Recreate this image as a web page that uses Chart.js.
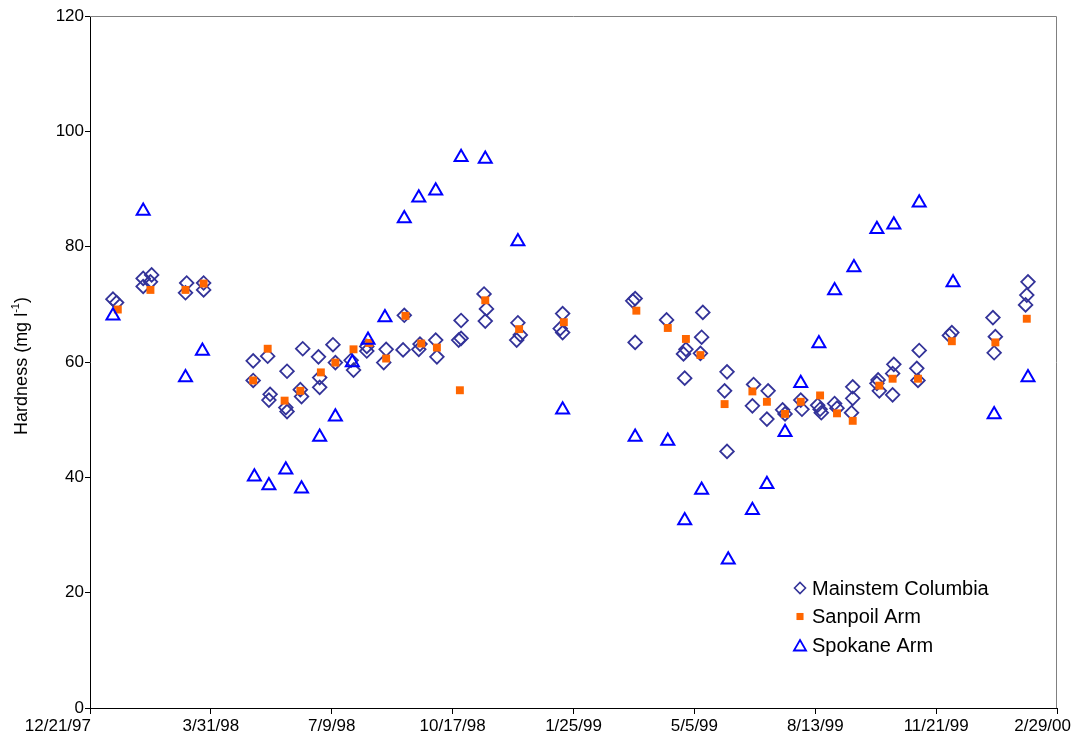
<!DOCTYPE html>
<html>
<head>
<meta charset="utf-8">
<script src="https://cdn.jsdelivr.net/npm/chart.js@4/dist/chart.umd.min.js"></script>
<style>
  html, body { margin: 0; padding: 0; background: #ffffff; }
  #wrap { width: 1075px; height: 744px; }
</style>
</head>
<body>
<div id="wrap"><canvas id="c" width="1075" height="744"></canvas></div>
<script>
// Sampling dates and hardness (mg/l) for each reach
const mainDates = [
  '1998-01-09','1998-01-12','1998-02-03','1998-02-10','1998-02-03','1998-02-09',
  '1998-03-11','1998-03-10','1998-03-25','1998-03-25',
  '1998-05-05','1998-05-05','1998-05-17','1998-05-19','1998-05-18',
  '1998-06-02','1998-06-01','1998-06-02','1998-06-14','1998-06-15','1998-06-13',
  '1998-06-28','1998-06-29','1998-06-29','1998-07-10','1998-07-12',
  '1998-07-25','1998-07-27','1998-08-07','1998-08-07','1998-08-23','1998-08-21',
  '1998-09-06','1998-09-07','1998-09-19','1998-09-20','1998-10-03','1998-10-04',
  '1998-10-22','1998-10-24','1998-10-24','1998-11-12','1998-11-14','1998-11-13',
  '1998-12-10','1998-12-12','1998-12-09','1999-01-16','1999-01-14','1999-01-16',
  '1999-03-17','1999-03-15','1999-03-17','1999-04-12',
  '1999-04-28','1999-04-26','1999-04-27','1999-05-12','1999-05-11','1999-05-10',
  '1999-06-01','1999-05-30','1999-06-01','1999-06-23','1999-06-22',
  '1999-07-05','1999-07-04','1999-07-17','1999-07-19','1999-08-01','1999-08-02',
  '1999-08-15','1999-08-17','1999-08-18','1999-08-29','1999-08-31',
  '1999-09-13','1999-09-13','1999-09-12','1999-10-03','1999-10-04','1999-10-05',
  '1999-10-17','1999-10-16','1999-10-16','1999-11-07','1999-11-05','1999-11-06',
  '1999-12-04','1999-12-02','2000-01-07','2000-01-09','2000-01-08',
  '2000-02-05','2000-02-04','2000-02-03'
];
const mainValues = [
  70.9, 70.3, 74.5, 75.1, 73.1, 73.9,
  73.7, 72.0, 73.7, 72.5,
  60.2, 56.8, 61.0, 54.4, 53.4,
  58.4, 52.1, 51.4, 54.0, 62.3, 55.2,
  60.9, 55.6, 57.3, 63.0, 59.9,
  60.3, 58.6, 61.9, 62.7, 62.2, 59.9,
  62.1, 68.1, 62.2, 63.1, 63.8, 60.9,
  63.8, 64.1, 67.2, 71.8, 69.2, 67.1,
  66.8, 64.7, 63.8, 68.4, 65.8, 65.1,
  71.0, 70.6, 63.4, 67.3,
  62.2, 61.4, 57.2, 68.6, 64.3, 61.5,
  58.3, 55.0, 44.5, 56.1, 52.4,
  55.0, 50.1, 51.7, 51.0, 53.4, 51.8,
  52.5, 51.8, 51.2, 52.8, 52.0,
  55.7, 53.7, 51.2, 56.3, 56.9, 55.0,
  59.6, 58.0, 54.3, 62.0, 58.9, 56.8,
  65.1, 64.6, 67.7, 64.4, 61.6,
  73.9, 71.6, 69.9
];

const sanpoilDates = [
  '1998-01-13','1998-02-09','1998-03-10','1998-03-25','1998-05-05','1998-05-17',
  '1998-05-31','1998-06-13','1998-06-30','1998-07-12','1998-07-27','1998-08-09',
  '1998-08-23','1998-09-08','1998-09-21','1998-10-04','1998-10-23','1998-11-13',
  '1998-12-11','1999-01-17','1999-03-18','1999-04-13','1999-04-28','1999-05-10',
  '1999-05-30','1999-06-22','1999-07-04','1999-07-19','1999-08-01','1999-08-17',
  '1999-08-31','1999-09-13','1999-10-05','1999-10-16','1999-11-06','1999-12-04',
  '2000-01-09','2000-02-04'
];
const sanpoilValues = [
  69.1, 72.5, 72.5, 73.6, 56.8, 62.3,
  53.3, 55.0, 58.2, 59.9, 62.2, 63.3,
  60.6, 68.0, 63.2, 62.5, 55.1, 70.7,
  65.7, 66.9, 68.9, 65.9, 64.0, 61.2,
  52.7, 54.9, 53.1, 51.0, 53.1, 54.2,
  51.1, 49.8, 55.9, 57.1, 57.1, 63.6,
  63.4, 67.5
];

const spokaneDates = [
  '1998-01-09','1998-02-03','1998-03-10','1998-03-24','1998-05-06','1998-05-18',
  '1998-06-01','1998-06-14','1998-06-29','1998-07-12','1998-07-26','1998-08-08',
  '1998-08-22','1998-09-07','1998-09-19','1998-10-03','1998-10-24','1998-11-13',
  '1998-12-10','1999-01-16','1999-03-17','1999-04-13','1999-04-27','1999-05-11',
  '1999-06-02','1999-06-22','1999-07-04','1999-07-19','1999-08-01','1999-08-16',
  '1999-08-29','1999-09-14','1999-10-03','1999-10-17','1999-11-07','1999-12-05',
  '2000-01-08','2000-02-05'
];
const spokaneValues = [
  68.0, 86.2, 57.3, 61.9, 40.1, 38.6,
  41.3, 38.0, 47.0, 50.5, 59.9, 63.8,
  67.7, 84.9, 88.5, 89.7, 95.5, 95.2,
  80.9, 51.7, 47.0, 46.3, 32.5, 37.8,
  25.7, 34.3, 38.8, 47.8, 56.3, 63.2,
  72.4, 76.4, 83.0, 83.8, 87.6, 73.8,
  50.9, 57.3
];

const seriesNames = ['Mainstem Columbia', 'Sanpoil Arm', 'Spokane Arm'];
const yTicks = [0, 20, 40, 60, 80, 100, 120];
const xTickDays = [0, 100, 200, 300, 400, 500, 600, 700, 800];

// x axis runs in days from the first tick date (12/21/97 .. 2/29/00)
const AXIS_START = Date.UTC(1997, 11, 21);
const DAY = 86400000;
const AXIS_DAYS = 800;

function toDay(s) {
  const p = s.split('-').map(Number);
  return (Date.UTC(p[0], p[1] - 1, p[2]) - AXIS_START) / DAY;
}
function fmtDay(d) {
  const dt = new Date(AXIS_START + d * DAY);
  const yy = String(dt.getUTCFullYear() % 100).padStart(2, '0');
  return (dt.getUTCMonth() + 1) + '/' + dt.getUTCDate() + '/' + yy;
}
function pts(dates, vals) {
  return dates.map((d, i) => ({ x: toDay(d), y: vals[i] }));
}

const FONT = '"Liberation Sans", Arial, Helvetica, sans-serif';
const COL_MAIN = '#333399';
const COL_SAN = '#FF6600';
const COL_SPO = '#0000FF';

const styles = [
  { pointStyle: 'rectRot', radius: 6.8, backgroundColor: 'rgba(0,0,0,0)', borderColor: COL_MAIN, borderWidth: 1.8 },
  { pointStyle: 'rect', radius: 5.6, backgroundColor: COL_SAN, borderColor: COL_SAN, borderWidth: 0 },
  { pointStyle: 'triangle', radius: 7.5, backgroundColor: 'rgba(0,0,0,0)', borderColor: COL_SPO, borderWidth: 2 }
];

// frame, date labels, rotated axis title and in-plot legend
const decorations = {
  id: 'decorations',
  afterDraw(chart) {
    const ctx = chart.ctx;
    const a = chart.chartArea;
    ctx.save();
    ctx.strokeStyle = '#808080';
    ctx.lineWidth = 1;
    ctx.beginPath();
    ctx.moveTo(a.left, a.top + 0.5);
    ctx.lineTo(a.right - 0.5, a.top + 0.5);
    ctx.lineTo(a.right - 0.5, a.bottom);
    ctx.stroke();
    ctx.restore();

    // date labels: end labels are pulled inside the axis span
    const xs = chart.scales.x;
    ctx.save();
    ctx.font = '17px ' + FONT;
    ctx.fillStyle = '#000';
    ctx.textBaseline = 'top';
    const last = xs.ticks.length - 1;
    xs.ticks.forEach((t, i) => {
      const px = xs.getPixelForValue(t.value);
      const label = fmtDay(t.value);
      if (i === 0) { ctx.textAlign = 'right'; ctx.fillText(label, px + 1, a.bottom + 10); }
      else if (i === last) { ctx.textAlign = 'right'; ctx.fillText(label, chart.width - 4, a.bottom + 10); }
      else { ctx.textAlign = 'center'; ctx.fillText(label, px, a.bottom + 10); }
    });
    ctx.restore();

    // y axis title with superscript
    ctx.save();
    const main = 'Hardness (mg l';
    const sup = '-1';
    const tail = ')';
    const fs = 18;
    ctx.fillStyle = '#000';
    ctx.font = fs + 'px ' + FONT;
    const w1 = ctx.measureText(main).width;
    const w3 = ctx.measureText(tail).width;
    ctx.font = Math.round(fs * 0.62) + 'px ' + FONT;
    const w2 = ctx.measureText(sup).width;
    const total = w1 + w2 + w3;
    ctx.translate(22, (a.top + a.bottom) / 2 + 4);
    ctx.rotate(-Math.PI / 2);
    ctx.textBaseline = 'middle';
    ctx.textAlign = 'left';
    const x0 = -total / 2;
    ctx.font = fs + 'px ' + FONT;
    ctx.fillText(main, x0, 0);
    ctx.font = Math.round(fs * 0.62) + 'px ' + FONT;
    ctx.fillText(sup, x0 + w1, -fs * 0.35);
    ctx.font = fs + 'px ' + FONT;
    ctx.fillText(tail, x0 + w1 + w2, 0);
    ctx.restore();

    // legend
    ctx.save();
    const lx = 800, ly = 588, gap = 28.5;
    ctx.font = '20px ' + FONT;
    ctx.textBaseline = 'middle';
    ctx.textAlign = 'left';
    const legStyles = [
      { pointStyle: 'rectRot', radius: 5.5, borderWidth: 1.6, fill: 'rgba(0,0,0,0)', stroke: COL_MAIN },
      { pointStyle: 'rect', radius: 5, borderWidth: 0, fill: COL_SAN, stroke: COL_SAN },
      { pointStyle: 'triangle', radius: 7, borderWidth: 1.8, fill: 'rgba(0,0,0,0)', stroke: COL_SPO }
    ];
    seriesNames.forEach((name, i) => {
      const s = legStyles[i];
      const y = ly + i * gap;
      ctx.fillStyle = s.fill;
      ctx.strokeStyle = s.stroke;
      ctx.lineWidth = s.borderWidth;
      Chart.helpers.drawPoint(ctx, { pointStyle: s.pointStyle, radius: s.radius, borderWidth: s.borderWidth, rotation: 0 }, lx, y + (i === 2 ? 2 : 0));
      ctx.fillStyle = '#000';
      ctx.fillText(name, lx + 12, y + 1);
    });
    ctx.restore();
  }
};

new Chart(document.getElementById('c'), {
  type: 'scatter',
  data: {
    datasets: [
      Object.assign({ label: seriesNames[0], data: pts(mainDates, mainValues), order: 3 }, styles[0]),
      Object.assign({ label: seriesNames[1], data: pts(sanpoilDates, sanpoilValues), order: 2 }, styles[1]),
      Object.assign({ label: seriesNames[2], data: pts(spokaneDates, spokaneValues), order: 1 }, styles[2])
    ]
  },
  options: {
    responsive: false,
    animation: false,
    devicePixelRatio: 1,
    layout: { padding: { top: 16, right: 18, left: 0, bottom: 0 } },
    plugins: { legend: { display: false }, tooltip: { enabled: false } },
    elements: { point: { hoverRadius: 0 } },
    scales: {
      x: {
        type: 'linear',
        min: 0,
        max: AXIS_DAYS,
        afterBuildTicks: (scale) => { scale.ticks = xTickDays.map(v => ({ value: v })); },
        ticks: { display: false },
        afterFit: (scale) => { scale.height = 36; },
        grid: { drawOnChartArea: false, drawTicks: true, tickLength: 6, color: '#000', tickWidth: 1 },
        border: { display: true, color: '#000', width: 1 }
      },
      y: {
        min: 0,
        max: 120,
        afterBuildTicks: (scale) => { scale.ticks = yTicks.map(v => ({ value: v })); },
        ticks: {
          color: '#000',
          font: { family: FONT, size: 17 },
          padding: 1
        },
        afterFit: (scale) => { scale.width = 90; },
        grid: { drawOnChartArea: false, drawTicks: true, tickLength: 5, color: '#000', tickWidth: 1 },
        border: { display: true, color: '#000', width: 1 }
      }
    }
  },
  plugins: [decorations]
});
</script>
</body>
</html>
